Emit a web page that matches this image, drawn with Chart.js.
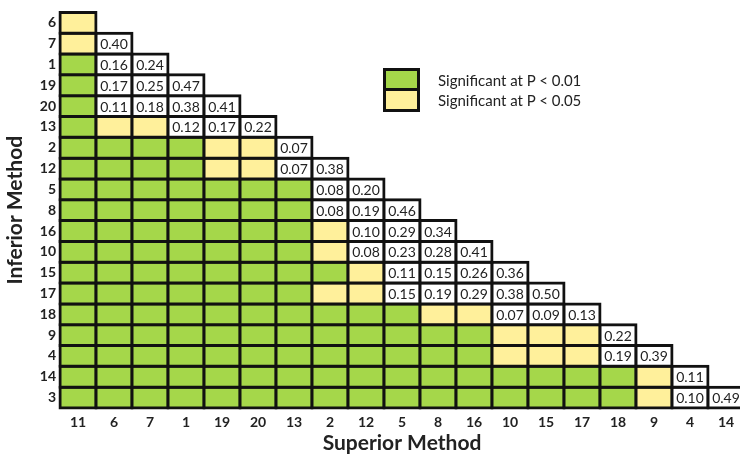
<!DOCTYPE html>
<html>
<head>
<meta charset="utf-8">
<script src="https://cdn.jsdelivr.net/npm/chart.js@4.4.1/dist/chart.umd.min.js"></script>
<style>
  html, body { margin: 0; padding: 0; background: #fff; overflow: hidden; }
  #wrap { position: relative; width: 740px; height: 456px; overflow: hidden; }
  #grafico { position: absolute; left: 0; top: 0; }
  .legenda-caixa { position: absolute; left: 383px; top: 68px; width: 37px; height: 44px;
    box-sizing: border-box; border: 3px solid #111; background: #111; }
  .legenda-caixa div { position: absolute; left: 0; right: 0; }
  .legenda-texto { position: absolute; left: 438px; font: 15px Lato, sans-serif; color: #222; white-space: nowrap; line-height: 16px; }
</style>
</head>
<body>
<div id="wrap">
  <canvas id="grafico" width="744" height="456"></canvas>
  <div class="legenda-caixa">
    <div style="top:0; height:17px; background:#a5d74a;"></div>
    <div style="top:20px; bottom:0; background:#fff09b;"></div>
  </div>
  <div class="legenda-texto" style="top:71.5px;">Significant at P &lt; 0.01</div>
  <div class="legenda-texto" style="top:91.5px;">Significant at P &lt; 0.05</div>
</div>
<script>
// Métodos nas colunas (superior) e nas linhas (inferior)
const colunas = ['11', '6', '7', '1', '19', '20', '13', '2', '12', '5', '8', '16', '10', '15', '17', '18', '9', '4', '14'];
const linhas = ['6', '7', '1', '19', '20', '13', '2', '12', '5', '8', '16', '10', '15', '17', '18', '9', '4', '14', '3'];

// 'G' = significativo a P < 0.01, 'Y' = significativo a P < 0.05, número = valor de P
const celulas = [
    ['Y'],
    ['Y', 0.40],
    ['G', 0.16, 0.24],
    ['G', 0.17, 0.25, 0.47],
    ['G', 0.11, 0.18, 0.38, 0.41],
    ['G', 'Y', 'Y', 0.12, 0.17, 0.22],
    ['G', 'G', 'G', 'G', 'Y', 'Y', 0.07],
    ['G', 'G', 'G', 'G', 'Y', 'Y', 0.07, 0.38],
    ['G', 'G', 'G', 'G', 'G', 'G', 'G', 0.08, 0.20],
    ['G', 'G', 'G', 'G', 'G', 'G', 'G', 0.08, 0.19, 0.46],
    ['G', 'G', 'G', 'G', 'G', 'G', 'G', 'Y', 0.10, 0.29, 0.34],
    ['G', 'G', 'G', 'G', 'G', 'G', 'G', 'Y', 0.08, 0.23, 0.28, 0.41],
    ['G', 'G', 'G', 'G', 'G', 'G', 'G', 'G', 'Y', 0.11, 0.15, 0.26, 0.36],
    ['G', 'G', 'G', 'G', 'G', 'G', 'G', 'Y', 'Y', 0.15, 0.19, 0.29, 0.38, 0.50],
    ['G', 'G', 'G', 'G', 'G', 'G', 'G', 'G', 'G', 'G', 'Y', 'Y', 0.07, 0.09, 0.13],
    ['G', 'G', 'G', 'G', 'G', 'G', 'G', 'G', 'G', 'G', 'G', 'G', 'Y', 'Y', 'Y', 0.22],
    ['G', 'G', 'G', 'G', 'G', 'G', 'G', 'G', 'G', 'G', 'G', 'G', 'Y', 'Y', 'Y', 0.19, 0.39],
    ['G', 'G', 'G', 'G', 'G', 'G', 'G', 'G', 'G', 'G', 'G', 'G', 'G', 'G', 'G', 'G', 'Y', 0.11],
    ['G', 'G', 'G', 'G', 'G', 'G', 'G', 'G', 'G', 'G', 'G', 'G', 'G', 'G', 'G', 'G', 'Y', 0.10, 0.49]
];

const VERDE = '#a5d74a';
const AMARELO = '#fff09b';

function corDaCelula(v) {
    if (v === 'G') return VERDE;
    if (v === 'Y') return AMARELO;
    return '#ffffff';
}

// Cada linha da matriz vira um dataset de barras flutuantes
const datasets = linhas.map((nome, i) => ({
    label: nome,
    data: colunas.map((c, j) => j < celulas[i].length ? [i, i + 1] : null),
    backgroundColor: colunas.map((c, j) => corDaCelula(celulas[i][j])),
    borderColor: '#111',
    borderWidth: 3,
    borderSkipped: false,
    inflateAmount: 1.5,
    barPercentage: 1,
    categoryPercentage: 1,
    grouped: false,
    clip: false
}));

// Escreve os valores de P dentro das células brancas
const rotulosCelulas = {
    id: 'rotulosCelulas',
    afterDatasetsDraw(chart) {
        const ctx = chart.ctx;
        ctx.save();
        ctx.font = '14px Lato, sans-serif';
        ctx.fillStyle = '#222';
        ctx.textAlign = 'center';
        ctx.textBaseline = 'middle';
        chart.data.datasets.forEach((ds, i) => {
            chart.getDatasetMeta(i).data.forEach((el, j) => {
                const v = celulas[i][j];
                if (typeof v === 'number') {
                    ctx.fillText(v.toFixed(2), el.x, (el.y + el.base) / 2 + 1);
                }
            });
        });
        ctx.restore();
    }
};

Chart.defaults.font.family = 'Lato, sans-serif';
Chart.defaults.color = '#222';

const ctx = document.getElementById('grafico').getContext('2d');
new Chart(ctx, {
    type: 'bar',
    data: { labels: colunas, datasets: datasets },
    plugins: [rotulosCelulas],
    options: {
        responsive: false,
        animation: false,
        layout: { padding: { top: 5.5, left: 0, right: 0, bottom: 0 } },
        plugins: { legend: { display: false }, tooltip: { enabled: false } },
        scales: {
            x: {
                type: 'category',
                grid: { display: false, drawTicks: false },
                border: { display: false },
                afterFit: s => { s.height = 48; },
                ticks: { padding: 6, maxRotation: 0, autoSkip: false, font: { size: 14, weight: 'bold' } },
                title: {
                    display: true,
                    text: 'Superior Method',
                    font: { size: 21, weight: 'bold', lineHeight: 1.2 },
                    padding: { top: 0, bottom: 0.4 }
                }
            },
            y: {
                type: 'linear',
                min: 0,
                max: 19,
                reverse: true,
                grid: { display: false, drawTicks: false },
                border: { display: false },
                afterBuildTicks: s => { s.ticks = linhas.map((n, i) => ({ value: i + 0.5 })); },
                afterFit: s => { s.width = 60; },
                ticks: {
                    padding: 4,
                    autoSkip: false,
                    font: { size: 14, weight: 'bold' },
                    callback: v => linhas[Math.floor(v)]
                },
                title: {
                    display: true,
                    text: 'Inferior Method',
                    font: { size: 21, weight: 'bold', lineHeight: 1.2 },
                    padding: { top: 2.4, bottom: 0 }
                }
            }
        }
    }
});
</script>
</body>
</html>
